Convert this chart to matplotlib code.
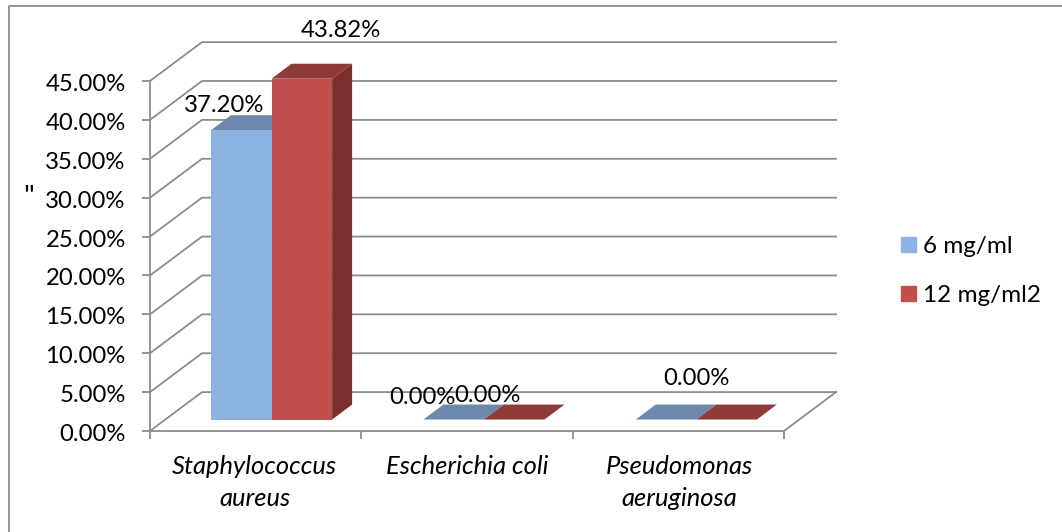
#!/bin/python3

import matplotlib.pyplot as plt
from matplotlib.lines import Line2D
from matplotlib.patches import Patch
from matplotlib.transforms import ScaledTranslation

plt.rcParams['font.family'] = ['Lato', 'DejaVu Sans']

categories = ['Staphylococcus\naureus', 'Escherichia coli', 'Pseudomonas\naeruginosa']
series_names = ['6 mg/ml', '12 mg/ml2']
values_6 = [37.20, 0.00, 0.00]
values_12 = [43.82, 0.00, 0.00]
y_ticks = [0, 5, 10, 15, 20, 25, 30, 35, 40, 45]

W, H = 1062, 532
GRID = '#8c8c8c'

# side wall goes back by one y step, floor goes back the same way
depth_x = 52 / 211.3
depth_y = 5.0


# point on the 3d box, d=0 is the front plane and d=1 the back wall
def pt(x, y, d=0.0):
    return x + depth_x * d, y + depth_y * d


def face(ax, p, color, z):
    ax.fill([q[0] for q in p], [q[1] for q in p], color=color, lw=0, zorder=z, clip_on=False)


def bar3d(ax, x0, x1, val, front, top, side, z):
    d0, d1 = 0.295, 0.68
    face(ax, [pt(x1, 0, d0), pt(x1, 0, d1), pt(x1, val, d1), pt(x1, val, d0)], side, z)
    face(ax, [pt(x0, val, d0), pt(x1, val, d0), pt(x1, val, d1), pt(x0, val, d1)], top, z)
    if val > 0:
        face(ax, [pt(x0, 0, d0), pt(x1, 0, d0), pt(x1, val, d0), pt(x0, val, d0)], front, z + 0.5)


fig = plt.figure(figsize=(W / 100, H / 100), dpi=100)
ax = fig.add_axes([150 / W, 1 - 431 / H, 634 / W, 350 / H])
ax.set_xlim(0, 3)
ax.set_ylim(0, 45)
for s in ax.spines.values():
    s.set_visible(False)

# outer chart border, only top and left are inside the crop
fig.add_artist(Line2D([8.5 / W, 8.5 / W, 1], [0, 1 - 6 / H, 1 - 6 / H], color=GRID, lw=1.3,
                      transform=fig.transFigure))

# walls and gridlines
for t in y_ticks:
    xs, ys = zip(pt(0, t, 0), pt(0, t, 1), pt(3, t, 1))
    ax.plot(xs, ys, color=GRID, lw=1.3, clip_on=False, zorder=1, solid_joinstyle='miter')
xs, ys = zip(pt(3, 0, 1), pt(3, 0, 0), pt(0, 0, 0))
ax.plot(xs, ys, color=GRID, lw=1.3, clip_on=False, zorder=1)
ax.plot([0, 0], [0, 45], color=GRID, lw=1.3, clip_on=False, zorder=1)

ax.set_yticks(y_ticks)
ax.set_yticklabels(['%.2f%%' % t for t in y_ticks], fontsize=17.2)
ax.set_xticks([0, 1, 2, 3])
ax.set_xticklabels([])
ax.tick_params(axis='both', color=GRID, width=1.3, length=5.5, pad=12)
# tick labels sit a little under their ticks
for lab in ax.get_yticklabels():
    lab.set_transform(lab.get_transform() + ScaledTranslation(0, -1.5 / 100, fig.dpi_scale_trans))

# bars
bar_w = 0.2865
colors = [('#8db3e2', '#6d88ad', '#5f789b'), ('#c0504d', '#8e3a38', '#7a302e')]
for i in range(len(categories)):
    left = i + 0.216 + 0.005 * i
    bar3d(ax, left, left + bar_w, values_6[i], *colors[0], 3)
    bar3d(ax, left + bar_w, left + 2 * bar_w, values_12[i], *colors[1], 4)

# category names sit in the middle of their slot
for i, c in enumerate(categories):
    ax.text(i + 0.495 + 0.005 * i, -3.1, c, ha='center', va='top', style='italic', fontsize=18.4,
            linespacing=1.47, clip_on=False)

# data labels
label_pos = [[(0.35, 41.8), (0.905, 51.5)], [(1.29, 4.3), (1.595, 4.6)], [(2.585, 6.8)]]
label_vals = [[values_6[0], values_12[0]], [values_6[1], values_12[1]], [values_6[2]]]
for pos, vals in zip(label_pos, label_vals):
    for (x, y), v in zip(pos, vals):
        ax.text(x, y, '%.2f%%' % v, ha='center', va='center', fontsize=17.2, zorder=6, clip_on=False)

fig.text(28.5 / W, 1 - 198 / H, '"', ha='center', va='center', fontsize=21)

handles = [Patch(color=colors[0][0], label=series_names[0]), Patch(color=colors[1][0], label=series_names[1])]
fig.legend(handles=handles, loc='center left', bbox_to_anchor=(901 / W, 1 - 271 / H), frameon=False,
           fontsize=17.5, handlelength=0.62, handleheight=0.62, handletextpad=0.3, labelspacing=1.15,
           borderpad=0, borderaxespad=0)

fig.savefig('out.png', dpi=100)
